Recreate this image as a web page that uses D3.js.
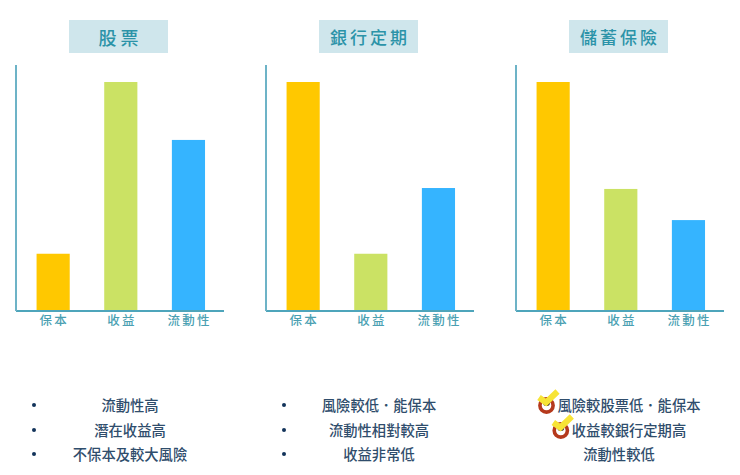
<!DOCTYPE html>
<html>
<head>
<meta charset="utf-8">
<script src="https://cdnjs.cloudflare.com/ajax/libs/d3/7.8.5/d3.min.js"></script>
<style>
  html, body { margin: 0; padding: 0; background: #fff; }
  svg { display: block; }
  text { font-family: "Noto Sans CJK TC", "Noto Sans", sans-serif; }
</style>
</head>
<body>
<div id="chart-area"></div>
<script>
// values, tallest bar = 100
var categories = ["保本", "收益", "流動性"];
var titles = ["股票", "銀行定期", "儲蓄保險"];
var stockValues = [25, 100, 74.7];
var bankValues = [100, 25, 53.7];
var savingsValues = [100, 53.3, 39.7];
var stockNotes = ["流動性高", "潛在收益高", "不保本及較大風險"];
var bankNotes = ["風險較低．能保本", "流動性相對較高", "收益非常低"];
var savingsNotes = ["風險較股票低．能保本", "收益較銀行定期高", "流動性較低"];
var colors = ["#ffc800", "#cbe264", "#35b4ff"];

var width = 740, height = 475;
var top_ = 65, base = 311, maxTop = 82;
var panelX = [16, 266, 516];
var noteY = [404.5, 429.5, 453.5];

var panels = [
  {title: titles[0], values: stockValues, notes: stockNotes, bullets: true, checks: [], titleSize: 18, spacing: 4, noteX: [114, 114, 114]},
  {title: titles[1], values: bankValues, notes: bankNotes, bullets: true, checks: [], titleSize: 17, spacing: 3, noteX: [113, 113, 113]},
  {title: titles[2], values: savingsValues, notes: savingsNotes, bullets: false, checks: [0, 1], titleSize: 17, spacing: 3, noteX: [113, 113, 103]}
];

var svg = d3.select("#chart-area").append("svg")
  .attr("width", width)
  .attr("height", height);

var y = d3.scaleLinear().domain([0, 100]).range([base, maxTop]);

panels.forEach(function(p, i) {
  var g = svg.append("g").attr("transform", "translate(" + panelX[i] + ", 0)");
  var x = d3.scaleBand().domain(categories).range([2.3, 207.3]).paddingInner(0.51).paddingOuter(0.27);

  // title box
  g.append("rect")
    .attr("x", 53).attr("y", 20)
    .attr("width", 99).attr("height", 33)
    .attr("fill", "#cfe6ec");
  g.append("text")
    .attr("x", 102.5 + p.spacing / 2).attr("y", 36.5)
    .attr("text-anchor", "middle")
    .attr("dominant-baseline", "central")
    .attr("font-size", p.titleSize)
    .attr("font-weight", 500)
    .attr("letter-spacing", p.spacing)
    .attr("fill", "#2b93a8")
    .text(p.title);

  // bars
  g.selectAll("rect.bar").data(p.values).enter().append("rect")
    .attr("class", "bar")
    .attr("x", function(d, j) { return x(categories[j]); })
    .attr("y", function(d) { return y(d); })
    .attr("width", x.bandwidth())
    .attr("height", function(d) { return base - y(d); })
    .attr("fill", function(d, j) { return colors[j]; });

  // axes
  var bottom = g.append("g")
    .attr("transform", "translate(0, " + base + ")")
    .call(d3.axisBottom(x).tickSize(0).tickPadding(5).tickSizeOuter(0));
  bottom.select(".domain").attr("d", "M0,0H208").attr("stroke", "#4ea5bb").attr("stroke-width", 2);
  bottom.selectAll("text")
    .style("font-family", '"Noto Sans CJK TC"')
    .attr("font-size", 12.5)
    .attr("font-weight", 500)
    .attr("letter-spacing", 2.3)
    .attr("dx", 1.2)
    .attr("fill", "#4a9fb2");

  g.append("line")
    .attr("x1", 0).attr("x2", 0)
    .attr("y1", top_).attr("y2", base)
    .attr("stroke", "#6db3c7").attr("stroke-width", 2);

  // notes under the chart
  var notes = svg.append("g").attr("transform", "translate(" + panelX[i] + ", 0)");
  notes.selectAll("text").data(p.notes).enter().append("text")
    .attr("x", function(d, j) { return p.noteX[j]; })
    .attr("y", function(d, j) { return noteY[j]; })
    .attr("text-anchor", "middle")
    .attr("dominant-baseline", "central")
    .attr("font-size", 14.3)
    .attr("font-weight", 500)
    .attr("fill", "#2f4d6c")
    .text(function(d) { return d; });

  if (p.bullets) {
    notes.selectAll("circle").data(p.notes).enter().append("circle")
      .attr("cx", 18)
      .attr("cy", function(d, j) { return noteY[j] + 0.5; })
      .attr("r", 2)
      .attr("fill", "#12335a");
  }

  // tick marks on the first two savings notes
  p.checks.forEach(function(j) {
    var text = notes.selectAll("text").nodes()[j];
    var left = text.getBBox().x;
    var c = notes.append("g").attr("transform", "translate(" + (left - 11) + ", " + (noteY[j] + 1) + ")");
    c.append("circle").attr("r", 6.6).attr("fill", "#fff").attr("stroke", "#b5391c").attr("stroke-width", 3.6);
    c.append("circle").attr("r", 3.5).attr("cy", -3).attr("fill", "#3a2a20");
    c.append("path")
      .attr("d", "M-7.5,-8L-0.5,-3L11,-14")
      .attr("fill", "none")
      .attr("stroke", "#f7e436")
      .attr("stroke-width", 6);
  });
});
</script>
</body>
</html>
